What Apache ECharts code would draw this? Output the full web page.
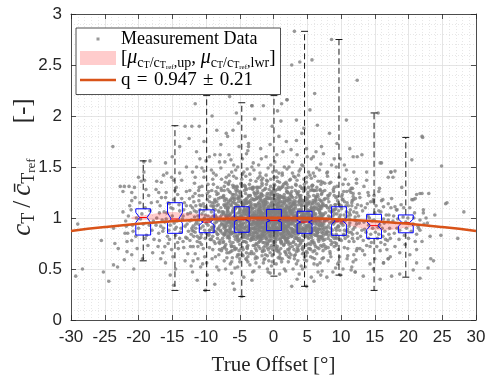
<!DOCTYPE html>
<html><head><meta charset="utf-8">
<script src="https://cdn.jsdelivr.net/npm/echarts@6/dist/echarts.min.js"></script>
<style>html,body{margin:0;padding:0;background:#fff}#c{width:486px;height:378px}</style>
</head><body><div id="c"></div><script>
// ---------- DATA ----------
const ptsM20 = [[-22.3,1.06],[-21.8,0.92],[-21.3,1.12],[-20.8,0.87],[-20.3,1.0],[-19.8,1.15],[-19.3,0.94],[-18.8,0.83],[-18.3,1.07],[-17.8,0.97],
[-22.0,0.85],[-21.5,1.02],[-21.0,0.78],[-20.5,1.2],[-20.0,0.9],[-19.5,1.04],[-19.0,0.8],[-18.5,1.22],[-18.0,0.88],
[-22.1,0.59],[-21.7,0.67],[-21.7,0.77],[-21.0,0.64],[-20.2,0.7],[-19.4,0.6],[-18.6,0.73],[-17.9,0.66],[-20.7,0.5],
[-22.3,1.26],[-21.4,1.31],[-21.0,1.17],[-20.6,1.3],[-19.6,1.36],[-19.2,1.45],[-18.3,1.56],[-19.1,1.37],[-22.7,1.31],[-20.0,1.4],[-18.9,1.28],[-19.2,1.55],
[-21.9,0.97],[-21.1,1.08],[-20.4,0.82],[-19.7,0.99],[-19.0,1.1],[-18.4,0.93],[-17.7,0.79],[-20.9,0.93],[-18.1,1.15],[-21.6,0.85]];
const ptsM15 = [[-17.3,1.0],[-16.8,1.12],[-16.3,0.9],[-15.8,1.05],[-15.3,0.93],[-14.8,1.18],[-14.3,0.97],[-13.8,0.86],[-13.3,1.08],[-12.8,0.94],
[-17.0,0.85],[-16.5,0.98],[-16.0,1.2],[-15.5,0.88],[-15.0,1.02],[-14.5,0.83],[-14.0,1.13],[-13.5,0.99],[-13.0,0.81],
[-17.2,1.16],[-16.7,0.92],[-16.2,1.06],[-15.7,0.82],[-15.2,1.1],[-14.7,0.95],[-14.2,1.23],[-13.7,0.9],[-13.2,1.15],[-12.7,1.04],
[-16.9,0.78],[-16.1,0.96],[-15.4,1.14],[-14.6,0.89],[-13.9,1.07],[-13.1,0.92],[-12.6,0.87],
[-17.4,0.93],[-16.9,1.05],[-16.4,0.87],[-15.9,0.99],[-15.4,0.79],[-14.9,1.09],[-14.4,0.91],[-13.9,0.8],[-13.4,1.02],[-12.9,1.12],[-16.6,1.2],[-15.6,1.15],[-14.2,0.76],[-13.6,1.19],[-16.1,0.72],[-15.1,0.69],[-13.3,0.71],[-12.8,0.8],[-17.0,1.25],[-14.6,1.27],
[-17.1,0.72],[-16.4,0.66],[-15.6,0.75],[-14.9,0.62],[-14.1,0.7],[-13.4,0.77],[-12.7,0.65],[-16.0,0.56],[-14.5,0.5],[-13.1,0.58],[-15.3,0.44],[-14.8,0.34],[-16.7,0.6],
[-17.4,1.28],[-16.6,1.35],[-15.9,1.25],[-15.1,1.4],[-14.4,1.3],[-13.6,1.37],[-12.9,1.26],[-16.3,1.42],[-14.8,1.37],[-13.9,1.44],[-12.9,1.5],[-15.8,1.44],
[-16.0,1.54],[-13.9,1.7],[-12.5,1.78],[-13.1,1.9],[-15.0,1.6],[-17.3,1.36]];
const ptsM10 = [[-12.4,0.97],[-12.0,1.1],[-11.6,0.86],[-11.2,1.02],[-10.8,0.9],[-10.4,1.14],[-10.0,0.95],[-9.6,0.83],[-9.2,1.06],[-8.8,0.92],[-8.4,1.12],[-8.0,0.98],[-7.6,0.85],
[-12.2,0.84],[-11.8,1.16],[-11.4,0.96],[-11.0,0.8],[-10.6,1.04],[-10.2,0.88],[-9.8,1.18],[-9.4,0.97],[-9.0,0.82],[-8.6,1.03],[-8.2,0.89],[-7.8,1.1],
[-12.3,1.05],[-11.9,0.92],[-11.5,1.12],[-11.1,0.94],[-10.7,0.84],[-10.3,0.99],[-9.9,1.09],[-9.5,0.88],[-9.1,1.15],[-8.7,0.95],[-8.3,0.8],[-7.9,1.01],
[-12.1,0.9],[-11.7,1.01],[-11.3,0.82],[-10.9,1.08],[-10.5,0.97],[-10.1,1.03],[-9.7,0.93],[-9.3,1.0],[-8.9,1.12],[-8.5,0.86],[-8.1,1.06],[-7.7,0.94],
[-12.45,1.19],[-11.85,0.87],[-11.05,1.17],[-10.25,1.11],[-9.45,1.21],[-8.65,1.17],[-7.85,0.88],[-11.55,0.94],[-10.75,1.12],[-9.95,0.85],[-9.15,0.91],[-8.35,1.0],
[-12.38,0.78],[-11.94,1.21],[-11.52,0.9],[-11.09,1.27],[-10.66,0.74],[-10.23,1.0],[-9.81,1.24],[-9.38,0.79],[-8.95,1.02],[-8.52,1.26],[-8.09,0.76],[-7.66,1.06],
[-12.27,1.12],[-11.83,0.82],[-11.41,1.06],[-10.98,0.98],[-10.55,1.22],[-10.12,0.8],[-9.69,0.98],[-9.26,1.12],[-8.83,0.87],[-8.4,1.16],[-7.97,0.92],[-7.54,0.8],
[-12.16,0.98],[-11.73,1.07],[-11.3,0.77],[-10.87,1.13],[-10.44,0.92],[-10.01,1.11],[-9.58,0.84],[-9.15,1.27],[-8.72,0.99],[-8.29,0.84],[-7.86,1.2],
[-12.05,0.88],[-11.62,1.24],[-11.19,0.98],[-10.76,0.81],[-10.33,1.07],[-9.9,0.95],[-9.47,1.16],[-9.04,0.89],[-8.61,1.08],[-8.18,1.19],[-7.75,0.97],
[-11.9,0.72],[-11.0,1.3],[-10.4,0.7],[-9.7,1.33],[-9.0,0.69],[-8.3,1.3],[-7.7,0.68],
[-12.3,0.72],[-11.6,0.65],[-10.9,0.76],[-10.2,0.62],[-9.5,0.71],[-8.8,0.77],[-8.1,0.64],[-7.6,0.7],[-11.9,0.58],[-10.5,0.55],[-9.1,0.6],[-8.4,0.52],[-12.0,0.47],[-9.8,0.44],[-11.3,0.39],[-8.7,0.35],[-10.1,0.29],[-12.2,0.53],[-11.2,0.72],[-9.3,0.79],
[-12.4,1.27],[-11.7,1.34],[-11.0,1.22],[-10.3,1.4],[-9.6,1.26],[-8.9,1.33],[-8.2,1.24],[-7.7,1.38],[-12.0,1.45],[-10.6,1.31],[-9.2,1.47],[-8.5,1.42],[-11.4,1.5],[-10.0,1.56],
[-12.1,1.9],[-11.0,1.9],[-11.4,1.65],[-10.6,1.49],[-8.9,1.44],[-7.8,1.72],[-7.9,1.62],[-8.4,1.86],[-11.6,2.12],[-9.5,1.6],[-10.3,1.75],[-8.0,1.55],[-9.1,2.0]];
const ptsM5 = [[-7.4,0.98],[-7.1,1.1],[-6.8,0.86],[-6.5,1.03],[-6.2,0.92],[-5.9,1.16],[-5.6,0.95],[-5.3,0.83],[-5.0,1.07],[-4.7,0.9],[-4.4,1.12],[-4.1,0.99],[-3.8,0.87],[-3.5,1.05],[-3.2,0.94],[-2.9,1.18],[-2.6,0.88],
[-7.3,0.84],[-7.0,0.95],[-6.7,1.14],[-6.4,0.89],[-6.1,1.06],[-5.8,0.82],[-5.5,1.01],[-5.2,1.19],[-4.9,0.93],[-4.6,0.81],[-4.3,1.04],[-4.0,1.14],[-3.7,0.91],[-3.4,0.84],[-3.1,1.09],[-2.8,1.0],
[-7.45,1.06],[-7.15,0.91],[-6.85,1.0],[-6.55,0.8],[-6.25,1.12],[-5.95,0.98],[-5.65,1.09],[-5.35,0.93],[-5.05,0.88],[-4.75,1.15],[-4.45,0.95],[-4.15,0.86],[-3.85,1.1],[-3.55,0.97],[-3.25,1.02],[-2.95,0.85],[-2.65,1.12],
[-7.25,1.17],[-6.95,0.88],[-6.65,0.96],[-6.35,1.18],[-6.05,0.85],[-5.75,1.02],[-5.45,0.9],[-5.15,1.11],[-4.85,1.01],[-4.55,1.06],[-4.25,0.89],[-3.95,0.97],[-3.65,1.16],[-3.35,0.9],[-3.05,0.97],[-2.75,0.93],
[-7.35,0.92],[-7.05,1.03],[-6.75,0.83],[-6.45,0.97],[-6.15,1.0],[-5.85,0.91],[-5.55,1.14],[-5.25,1.0],[-4.95,0.96],[-4.65,0.87],[-4.35,1.17],[-4.05,0.92],[-3.75,1.02],[-3.45,1.11],[-3.15,0.82],[-2.85,1.06],[-2.55,0.96],
[-7.47,0.76],[-7.16,1.19],[-6.84,0.81],[-6.55,1.26],[-6.22,0.72],[-5.93,1.23],[-5.62,0.79],[-5.31,1.27],[-5.01,0.74],[-4.72,1.21],[-4.41,0.77],[-4.09,1.29],[-3.79,0.73],[-3.48,1.22],[-3.17,0.8],[-2.87,1.25],[-2.57,0.75],
[-7.38,1.22],[-7.07,0.74],[-6.77,1.28],[-6.46,0.77],[-6.13,1.2],[-5.84,0.72],[-5.52,1.26],[-5.23,0.79],[-4.92,1.23],[-4.61,0.71],[-4.3,1.27],[-4.01,0.76],[-3.7,1.21],[-3.39,0.78],[-3.08,1.28],[-2.78,0.73],
[-7.3,0.83],[-6.98,1.01],[-6.68,1.16],[-6.37,0.85],[-6.05,1.0],[-5.76,1.18],[-5.44,0.82],[-5.14,0.99],[-4.84,1.17],[-4.52,0.84],[-4.22,1.03],[-3.92,1.15],[-3.61,0.83],[-3.3,1.01],[-2.99,1.18],[-2.69,0.86],
[-7.24,1.12],[-6.93,0.93],[-6.62,0.81],[-6.31,1.13],[-6.0,0.96],[-5.68,0.85],[-5.38,1.12],[-5.07,0.92],[-4.77,0.8],[-4.46,1.14],[-4.15,0.95],[-3.85,0.83],[-3.54,1.11],[-3.23,0.94],[-2.92,0.81],[-2.62,1.13],
[-7.42,1.04],[-7.11,0.87],[-6.8,1.08],[-6.49,1.03],[-6.18,0.86],[-5.88,1.1],[-5.57,1.04],[-5.27,0.88],[-4.96,1.09],[-4.66,1.02],[-4.36,0.85],[-4.05,1.08],[-3.74,1.05],[-3.44,0.87],[-3.13,1.1],[-2.82,1.03],[-2.52,0.85],
[-7.33,0.9],[-7.02,1.14],[-6.71,0.97],[-6.41,0.9],[-6.1,1.15],[-5.79,0.98],[-5.48,0.91],[-5.18,1.16],[-4.87,0.97],[-4.57,0.92],[-4.26,1.14],[-3.95,0.99],[-3.64,0.9],[-3.34,1.15],[-3.03,0.96],[-2.72,0.91],
[-7.2,0.98],[-6.89,1.06],[-6.58,0.88],[-6.27,0.98],[-5.96,1.06],[-5.66,0.89],[-5.35,1.0],[-5.04,1.05],[-4.74,0.87],[-4.43,0.99],[-4.12,1.07],[-3.82,0.88],[-3.51,0.98],[-3.2,1.06],[-2.9,0.89],[-2.6,1.0],
[-7.29,1.31],[-6.97,0.69],[-6.66,1.33],[-6.34,0.67],[-6.03,1.32],[-5.73,0.7],[-5.41,1.3],[-5.11,0.68],[-4.8,1.34],[-4.49,0.69],[-4.19,1.31],[-3.88,0.7],[-3.57,1.33],[-3.27,0.67],[-2.96,1.3],[-2.66,0.7],
[-7.36,0.94],[-7.05,1.02],[-6.74,1.11],[-6.43,0.95],[-6.12,0.93],[-5.82,1.07],[-5.5,0.96],[-5.2,1.12],[-4.9,1.02],[-4.59,0.94],[-4.28,1.09],[-3.98,1.04],[-3.67,0.96],[-3.36,1.08],[-3.06,1.03],[-2.75,0.95],[-2.51,1.19],
[-7.22,0.85],[-6.91,1.18],[-6.6,1.02],[-6.29,0.86],[-5.98,1.19],[-5.67,1.01],[-5.36,0.81],[-5.06,1.2],[-4.75,1.02],[-4.44,0.82],[-4.13,1.18],[-3.83,1.03],[-3.52,0.85],[-3.21,1.19],[-2.91,1.01],[-2.59,0.82],
[-7.2,0.72],[-6.6,0.66],[-6.0,0.76],[-5.4,0.62],[-4.8,0.7],[-4.2,0.77],[-3.6,0.65],[-3.0,0.73],[-2.7,0.6],[-6.9,0.61],[-6.3,0.74],[-5.7,0.69],[-5.1,0.78],[-4.5,0.63],[-3.9,0.71],[-3.3,0.79],[-7.4,0.77],[-5.0,0.57],[-4.0,0.59],[-6.4,0.55],
[-7.3,1.27],[-6.7,1.34],[-6.1,1.23],[-5.5,1.39],[-4.9,1.26],[-4.3,1.32],[-3.7,1.22],[-3.1,1.29],[-2.6,1.36],[-7.0,1.4],[-6.4,1.25],[-5.8,1.31],[-5.2,1.21],[-4.6,1.43],[-4.0,1.28],[-3.4,1.37],[-2.8,1.24],[-6.2,1.45],[-3.9,1.48],[-5.6,1.28],
[-7.1,0.5],[-6.2,0.46],[-5.3,0.52],[-4.4,0.42],[-3.5,0.54],[-2.9,0.48],[-4.7,0.23],[-6.0,0.36],[-3.2,0.39],[-5.8,0.3],
[-7.2,1.55],[-6.6,1.62],[-5.9,1.52],[-5.1,1.7],[-4.6,1.58],[-3.8,1.66],[-3.0,1.54],[-6.8,1.8],[-6.0,1.86],[-5.2,1.93],[-4.2,1.8],[-3.7,1.7],[-6.5,2.19],[-3.2,2.1],[-2.8,1.97],[-5.5,2.03],[-7.0,1.83],[-3.7,1.73]];
const pts0 = [[-2.4,0.95],[-2.1,1.08],[-1.8,0.88],[-1.5,1.02],[-1.2,0.91],[-0.9,1.15],[-0.6,0.97],[-0.3,0.84],[0.0,1.05],[0.3,0.93],[0.6,1.11],[0.9,0.89],[1.2,1.01],[1.5,0.96],[1.8,1.13],[2.1,0.87],[2.4,1.04],
[-2.3,0.82],[-2.0,1.17],[-1.7,0.99],[-1.4,0.86],[-1.1,1.07],[-0.8,0.92],[-0.5,1.19],[-0.2,0.98],[0.1,0.81],[0.4,1.09],[0.7,1.0],[1.0,0.85],[1.3,1.16],[1.6,0.9],[1.9,1.06],[2.2,0.94],
[-2.5,1.12],[-2.2,0.9],[-1.9,1.03],[-1.6,0.83],[-1.3,1.18],[-1.0,0.95],[-0.7,1.06],[-0.4,0.88],[-0.1,1.13],[0.2,0.99],[0.5,0.86],[0.8,1.04],[1.1,0.92],[1.4,1.1],[1.7,0.97],[2.0,0.84],[2.3,1.15],
[-2.35,1.0],[-2.05,0.87],[-1.75,1.14],[-1.45,0.94],[-1.15,0.8],[-0.85,1.03],[-0.55,0.9],[-0.25,1.1],[0.05,0.93],[0.35,1.17],[0.65,0.82],[0.95,1.08],[1.25,0.95],[1.55,0.87],[1.85,1.0],[2.15,1.12],[2.45,0.9],
[-2.45,0.86],[-2.15,1.02],[-1.85,0.93],[-1.55,1.16],[-1.25,1.0],[-0.95,0.84],[-0.65,1.12],[-0.35,0.95],[-0.05,0.89],[0.25,1.03],[0.55,0.97],[0.85,1.19],[1.15,0.83],[1.45,1.05],[1.75,0.91],[2.05,1.09],[2.35,0.98],
[-2.25,1.06],[-1.95,0.97],[-1.65,0.91],[-1.35,1.09],[-1.05,0.88],[-0.75,0.99],[-0.45,1.04],[-0.15,0.92],[0.15,1.16],[0.45,0.91],[0.75,0.95],[1.05,1.12],[1.35,0.88],[1.65,1.02],[1.95,0.96],[2.25,0.81],
[-2.38,0.96],[-2.02,1.11],[-1.72,0.85],[-1.42,0.98],[-1.12,1.13],[-0.82,0.87],[-0.52,1.01],[-0.22,1.15],[0.08,0.87],[0.38,1.0],[0.68,1.06],[0.98,0.93],[1.28,1.07],[1.58,0.81],[1.88,0.89],[2.18,1.01],[2.48,1.08],
[-2.28,0.92],[-1.98,0.82],[-1.68,1.05],[-1.38,1.13],[-1.08,0.97],[-0.78,1.1],[-0.48,0.83],[-0.18,1.02],[0.12,0.96],[0.42,1.13],[0.72,0.88],[1.02,1.0],[1.32,0.94],[1.62,1.18],[1.92,1.11],[2.22,0.97],
[-2.18,1.15],[-1.88,1.07],[-1.58,0.97],[-1.28,0.89],[-0.98,1.04],[-0.68,0.93],[-0.38,1.07],[-0.08,0.97],[0.22,0.85],[0.52,1.05],[0.82,0.92],[1.12,1.08],[1.42,0.99],[1.72,1.08],[2.02,0.93],[2.32,1.06],
[-2.48,0.74],[-2.17,1.21],[-1.86,0.79],[-1.57,1.27],[-1.24,0.73],[-0.93,1.24],[-0.61,0.78],[-0.32,1.26],[-0.02,0.76],[0.27,1.22],[0.58,0.72],[0.91,1.28],[1.19,0.75],[1.52,1.2],[1.83,0.79],[2.12,1.25],[2.43,0.71],
[-2.41,1.2],[-2.09,0.77],[-1.79,1.23],[-1.47,0.71],[-1.18,1.29],[-0.87,0.74],[-0.57,1.21],[-0.27,0.78],[0.04,1.27],[0.33,0.73],[0.62,1.23],[0.96,0.79],[1.27,1.21],[1.56,0.74],[1.88,1.29],[2.19,0.77],[2.47,1.23],
[-2.33,0.81],[-2.01,0.99],[-1.71,1.17],[-1.39,0.83],[-1.07,1.01],[-0.79,1.19],[-0.47,0.82],[-0.16,1.0],[0.12,1.18],[0.44,0.84],[0.73,1.02],[1.05,1.16],[1.33,0.81],[1.66,0.98],[1.96,1.17],[2.27,0.85],
[-2.27,1.14],[-1.94,0.94],[-1.63,0.8],[-1.33,1.11],[-1.02,0.95],[-0.71,0.86],[-0.41,1.14],[-0.11,0.93],[0.19,0.81],[0.49,1.12],[0.81,0.96],[1.09,0.84],[1.39,1.14],[1.71,0.92],[2.01,0.8],[2.31,1.1],
[-2.44,1.03],[-2.13,0.88],[-1.82,1.09],[-1.52,1.04],[-1.21,0.85],[-0.89,1.09],[-0.59,1.05],[-0.29,0.86],[0.01,1.08],[0.31,1.04],[0.61,0.85],[0.93,1.1],[1.23,1.03],[1.53,0.86],[1.84,1.1],[2.16,1.02],[2.46,0.84],
[-2.36,0.89],[-2.06,1.13],[-1.76,0.96],[-1.44,0.91],[-1.14,1.16],[-0.84,0.97],[-0.53,0.9],[-0.23,1.16],[0.09,0.98],[0.39,0.9],[0.69,1.14],[0.99,0.99],[1.29,0.91],[1.59,1.15],[1.91,0.97],[2.21,0.92],
[-2.22,0.97],[-1.91,1.05],[-1.61,0.87],[-1.29,0.99],[-0.99,1.07],[-0.67,0.88],[-0.37,0.99],[-0.06,1.06],[0.24,0.88],[0.54,0.98],[0.86,1.07],[1.16,0.89],[1.46,1.0],[1.76,1.06],[2.06,0.88],[2.38,1.0],
[-2.31,1.3],[-1.99,0.7],[-1.69,1.34],[-1.36,0.68],[-1.05,1.33],[-0.76,0.69],[-0.43,1.31],[-0.13,0.69],[0.17,1.32],[0.47,0.68],[0.78,1.3],[1.08,0.7],[1.37,1.31],[1.69,0.67],[1.99,1.33],[2.29,0.69],
[-2.39,0.93],[-2.08,1.01],[-1.77,1.11],[-1.46,0.96],[-1.16,0.92],[-0.86,1.06],[-0.55,0.95],[-0.24,1.12],[0.06,1.01],[0.36,0.95],[0.66,1.09],[0.97,1.05],[1.26,0.97],[1.57,1.08],[1.86,1.04],[2.17,0.96],[2.44,1.18],
[-2.25,0.84],[-1.93,1.19],[-1.62,1.01],[-1.31,0.87],[-1.01,1.2],[-0.69,1.0],[-0.39,0.8],[-0.08,1.19],[0.22,1.03],[0.52,0.83],[0.83,1.18],[1.13,1.02],[1.43,0.84],[1.73,1.2],[2.04,1.01],[2.34,0.83],
[-2.46,0.99],[-2.15,0.82],[-1.84,1.03],[-1.55,1.22],[-1.23,0.94],[-0.92,0.81],[-0.63,1.04],[-0.3,1.23],[0.0,0.94],[0.32,0.8],[0.63,1.02],[0.94,1.22],[1.22,0.93],[1.54,0.82],[1.86,1.03],[2.14,1.19],[2.42,0.94],
[-2.2,1.08],[-1.9,0.91],[-1.58,0.76],[-1.27,1.05],[-0.97,0.91],[-0.65,0.77],[-0.35,1.07],[-0.04,0.9],[0.26,0.76],[0.57,1.06],[0.88,0.9],[1.17,0.77],[1.48,1.07],[1.79,0.9],[2.08,0.76],[2.4,1.07],
[-2.2,0.72],[-1.6,0.68],[-0.9,0.75],[-0.2,0.63],[0.5,0.7],[1.1,0.77],[1.8,0.66],[2.3,0.74],[-1.9,0.78],[-1.2,0.64],[-0.5,0.71],[0.2,0.77],[0.9,0.62],[1.5,0.73],[2.1,0.69],[-2.4,0.61],[-1.0,0.79],[0.7,0.67],[1.3,0.6],[-0.7,0.58],[0.0,0.72],[1.9,0.78],[-1.4,0.76],
[-2.3,1.25],[-1.7,1.32],[-1.0,1.22],[-0.4,1.38],[0.3,1.27],[0.9,1.35],[1.6,1.23],[2.2,1.3],[-2.0,1.41],[-1.3,1.28],[-0.6,1.24],[0.1,1.33],[0.7,1.21],[1.3,1.42],[2.0,1.26],[-1.8,1.21],[-0.1,1.45],[1.0,1.29],[2.4,1.37],[-2.5,1.3],[0.5,1.4],[-0.9,1.36],[1.7,1.34],
[-2.1,0.52],[-0.8,0.47],[0.4,0.55],[1.6,0.5],[-1.5,0.56],[0.9,0.45],[2.2,0.57],[-0.3,0.53],[-0.5,0.46],
[-2.2,1.52],[-1.1,1.6],[0.2,1.55],[1.4,1.65],[2.3,1.5],[-0.5,1.72],[0.8,1.8],[-1.9,1.68],[1.9,1.75],[-0.2,1.9],[1.1,1.95],[-1.5,2.1],[0.6,2.05],[2.0,2.16],[1.2,2.12],[-3.2,2.1]];
const pts5 = [[2.6,0.95],[2.9,1.08],[3.2,0.87],[3.5,1.01],[3.8,0.9],[4.1,1.13],[4.4,0.96],[4.7,0.83],[5.0,1.04],[5.3,0.92],[5.6,1.1],[5.9,0.88],[6.2,1.0],[6.5,0.94],[6.8,1.12],[7.1,0.86],[7.4,1.03],
[2.7,0.82],[3.0,1.15],[3.3,0.98],[3.6,0.85],[3.9,1.06],[4.2,0.91],[4.5,1.17],[4.8,0.97],[5.1,0.81],[5.4,1.07],[5.7,0.99],[6.0,0.84],[6.3,1.14],[6.6,0.89],[6.9,1.05],[7.2,0.93],
[2.55,1.11],[2.85,0.89],[3.15,1.02],[3.45,0.8],[3.75,1.16],[4.05,0.94],[4.35,1.05],[4.65,0.87],[4.95,1.12],[5.25,0.98],[5.55,0.85],[5.85,1.03],[6.15,0.91],[6.45,1.09],[6.75,0.96],[7.05,0.82],[7.35,1.14],
[2.65,0.99],[2.95,0.86],[3.25,1.13],[3.55,0.93],[3.85,0.8],[4.15,1.02],[4.45,0.89],[4.75,1.09],[5.05,0.92],[5.35,1.16],[5.65,0.81],[5.95,1.07],[6.25,0.94],[6.55,0.86],[6.85,0.99],[7.15,1.11],[7.45,0.89],
[2.75,1.05],[3.05,0.96],[3.35,0.9],[3.65,1.08],[3.95,0.87],[4.25,0.98],[4.55,1.03],[4.85,0.91],[5.15,1.14],[5.45,0.9],[5.75,0.94],[6.05,1.11],[6.35,0.87],[6.65,1.01],[6.95,0.95],[7.25,0.8],
[2.53,0.75],[2.84,1.2],[3.15,0.8],[3.45,1.25],[3.77,0.73],[4.07,1.22],[4.38,0.78],[4.69,1.28],[4.99,0.74],[5.29,1.21],[5.61,0.77],[5.91,1.27],[6.22,0.72],[6.52,1.23],[6.83,0.79],[7.14,1.24],[7.45,0.74],
[2.62,1.22],[2.93,0.76],[3.23,1.27],[3.54,0.71],[3.86,1.21],[4.16,0.78],[4.47,1.26],[4.77,0.73],[5.08,1.23],[5.39,0.7],[5.7,1.28],[6.0,0.76],[6.31,1.2],[6.62,0.79],[6.92,1.27],[7.23,0.72],
[2.7,0.82],[3.01,1.0],[3.32,1.16],[3.63,0.84],[3.94,1.01],[4.24,1.17],[4.55,0.82],[4.86,0.98],[5.17,1.15],[5.47,0.84],[5.78,1.01],[6.08,1.16],[6.39,0.83],[6.7,0.99],[7.01,1.17],[7.31,0.85],
[2.77,1.12],[3.07,0.93],[3.38,0.8],[3.69,1.13],[4.0,0.95],[4.31,0.83],[4.62,1.12],[4.93,0.92],[5.23,0.8],[5.54,1.13],[5.85,0.96],[6.16,0.83],[6.46,1.11],[6.77,0.93],[7.08,0.81],[7.39,1.12],
[2.58,1.03],[2.89,0.87],[3.2,1.09],[3.51,1.03],[3.81,0.86],[4.12,1.09],[4.43,1.04],[4.73,0.87],[5.04,1.08],[5.35,1.03],[5.65,0.86],[5.96,1.1],[6.26,1.04],[6.57,0.86],[6.88,1.09],[7.18,1.02],[7.48,0.87],
[2.67,0.9],[2.98,1.14],[3.29,0.97],[3.59,0.9],[3.9,1.15],[4.21,0.97],[4.52,0.9],[4.82,1.14],[5.13,0.98],[5.44,0.91],[5.74,1.15],[6.05,0.97],[6.36,0.9],[6.66,1.14],[6.97,0.98],[7.28,0.91],
[2.8,0.98],[3.11,1.06],[3.42,0.88],[3.73,0.99],[4.04,1.06],[4.34,0.89],[4.65,0.99],[4.96,1.05],[5.26,0.88],[5.57,0.98],[5.88,1.06],[6.18,0.88],[6.49,0.99],[6.8,1.07],[7.1,0.89],[7.41,0.99],
[2.71,1.3],[3.03,0.69],[3.34,1.32],[3.65,0.68],[3.96,1.31],[4.27,0.7],[4.58,1.33],[4.88,0.67],[5.19,1.3],[5.5,0.69],[5.81,1.32],[6.11,0.68],[6.42,1.3],[6.73,0.7],[7.04,1.33],[7.35,0.68],
[2.64,0.94],[2.95,1.02],[3.26,1.11],[3.57,0.95],[3.87,0.93],[4.18,1.07],[4.49,0.96],[4.8,1.11],[5.1,1.02],[5.41,0.94],[5.72,1.08],[6.03,1.04],[6.33,0.96],[6.64,1.08],[6.95,1.03],[7.26,0.95],
[2.78,0.85],[3.09,1.17],[3.4,1.01],[3.71,0.86],[4.02,1.18],[4.33,1.02],[4.63,0.82],[4.94,1.19],[5.25,1.01],[5.56,0.83],[5.87,1.17],[6.17,1.03],[6.48,0.85],[6.79,1.18],[7.1,1.01],[7.4,0.83],
[2.8,0.72],[3.4,0.67],[4.0,0.75],[4.6,0.62],[5.2,0.7],[5.8,0.76],[6.4,0.65],[7.0,0.73],[7.4,0.61],[3.1,0.6],[3.7,0.78],[4.3,0.69],[4.9,0.58],[5.5,0.74],[6.1,0.6],[6.7,0.77],[2.6,0.64],[5.0,0.66],[6.9,0.56],[4.1,0.53],
[2.7,1.26],[3.3,1.33],[3.9,1.22],[4.5,1.38],[5.1,1.25],[5.7,1.31],[6.3,1.21],[6.9,1.28],[7.3,1.35],[3.0,1.41],[3.6,1.24],[4.2,1.29],[4.8,1.2],[5.4,1.42],[6.0,1.27],[6.6,1.36],[7.1,1.23],[3.8,1.46],[5.9,1.44],[4.6,1.3],
[2.9,0.5],[3.8,0.45],[4.7,0.52],[5.6,0.42],[6.5,0.54],[7.2,0.48],[4.9,0.33],[2.7,0.33],[6.0,0.38],[3.5,0.4],[7.0,0.44],
[2.8,1.55],[3.5,1.62],[4.2,1.52],[4.9,1.68],[5.6,1.58],[6.3,1.65],[7.0,1.53],[3.4,1.76],[4.2,1.83],[5.9,1.6],[6.5,1.91],[5.4,2.06],[6.1,2.22],[3.9,2.53],[2.7,2.5],[5.7,2.55],[3.1,2.83],[7.1,1.7],[3.4,1.96],[4.5,1.88],[2.0,2.16]];
const pts10 = [[7.6,0.97],[8.0,1.1],[8.4,0.86],[8.8,1.02],[9.2,0.9],[9.6,1.14],[10.0,0.95],[10.4,0.83],[10.8,1.06],[11.2,0.92],[11.6,1.12],[12.0,0.98],[12.4,0.85],
[7.8,0.84],[8.2,1.16],[8.6,0.96],[9.0,0.8],[9.4,1.04],[9.8,0.88],[10.2,1.18],[10.6,0.97],[11.0,0.82],[11.4,1.03],[11.8,0.89],[12.2,1.1],
[7.7,1.05],[8.1,0.92],[8.5,1.12],[8.9,0.94],[9.3,0.84],[9.7,0.99],[10.1,1.09],[10.5,0.88],[10.9,1.15],[11.3,0.95],[11.7,0.8],[12.1,1.01],
[7.9,0.9],[8.3,1.01],[8.7,0.82],[9.1,1.08],[9.5,0.97],[9.9,1.03],[10.3,0.93],[10.7,1.0],[11.1,1.12],[11.5,0.86],[11.9,1.06],[12.3,0.94],
[7.65,1.19],[8.45,0.78],[9.25,1.2],[10.05,0.78],[10.85,0.87],[11.65,1.17],[12.45,1.13],[8.05,0.98],[8.85,1.08],[9.65,0.92],[10.45,1.03],[11.25,1.05],
[7.62,0.79],[8.05,1.22],[8.47,0.9],[8.9,1.26],[9.33,0.75],[9.76,1.01],[10.19,1.23],[10.62,0.8],[11.05,1.02],[11.48,1.25],[11.91,0.77],[12.34,1.05],
[7.73,1.12],[8.16,0.83],[8.59,1.06],[9.02,0.97],[9.45,1.21],[9.88,0.79],[10.31,0.98],[10.74,1.12],[11.17,0.86],[11.6,1.15],[12.03,0.91],[12.46,0.8],
[7.84,0.98],[8.27,1.07],[8.7,0.76],[9.13,1.13],[9.56,0.92],[9.99,1.11],[10.42,0.84],[10.85,1.26],[11.28,0.99],[11.71,0.84],[12.14,1.19],
[7.95,0.87],[8.38,1.24],[8.81,0.98],[9.24,0.81],[9.67,1.07],[10.1,0.95],[10.53,1.16],[10.96,0.89],[11.39,1.08],[11.82,1.18],[12.25,0.97],
[8.1,0.71],[9.0,1.3],[9.6,0.69],[10.3,1.33],[11.0,0.7],[11.7,1.29],[12.3,0.68],
[7.7,0.72],[8.4,0.65],[9.1,0.76],[9.8,0.62],[10.5,0.71],[11.2,0.77],[11.9,0.64],[12.4,0.7],[8.1,0.58],[9.5,0.55],[10.9,0.6],[11.6,0.52],[8.8,0.47],[9.9,0.44],[11.8,0.57],[12.1,0.47],[7.9,0.42],[10.3,0.5],
[7.6,1.27],[8.3,1.34],[9.0,1.22],[9.7,1.4],[10.4,1.26],[11.1,1.33],[11.8,1.24],[12.3,1.38],[8.0,1.45],[9.4,1.31],[10.8,1.47],[11.5,1.29],[8.6,1.52],[10.1,1.21],
[11.3,1.68],[11.8,1.6],[12.3,1.34],[11.3,1.27],[11.8,1.21],[10.3,1.18],[12.4,1.6],[9.4,1.73],[8.3,1.83],[10.8,1.96],[8.6,2.75],[12.4,2.35],[9.0,1.58],[7.9,1.44],[10.5,1.52]];
const ptsMid = [[-11.2,0.6],[-9.9,0.56],[-8.6,0.62],[-7.3,0.58],[-6.1,0.61],[-5.1,0.64],[-3.8,0.57],[-2.6,0.62],[-1.3,0.6],[-0.1,0.64],[1.2,0.57],[2.4,0.61],[3.6,0.58],[4.8,0.63],[6.0,0.55],[7.2,0.6],[8.5,0.62],[9.7,0.57],[11.0,0.63],[12.2,0.59],
[-11.6,1.4],[-10.3,1.46],[-9.0,1.38],[-7.8,1.49],[-6.6,1.42],[-5.3,1.5],[-4.1,1.41],[-2.9,1.47],[-1.6,1.39],[-0.4,1.52],[0.8,1.44],[2.0,1.48],[3.2,1.4],[4.4,1.51],[5.6,1.39],[6.8,1.47],[8.0,1.41],[9.3,1.5],[10.6,1.38],[11.9,1.45],
[-10.8,0.52],[-8.1,0.49],[-5.7,0.51],[-3.1,0.47],[-0.9,0.5],[1.8,0.48],[4.3,0.5],[6.6,0.47],[9.2,0.51],[11.5,0.49],
[-10.9,1.58],[-8.7,1.62],[-6.3,1.57],[-4.0,1.63],[-1.8,1.58],[0.5,1.62],[2.6,1.67],[5.0,1.6],[7.4,1.63],[9.9,1.58]];
const ptsCore = [[-8.9,0.91],[-8.4,1.23],[-7.9,0.78],[-7.4,1.05],[-6.9,0.66],[-6.4,1.17],[-5.9,0.94],[-5.4,1.31],[-4.9,0.85],[-4.4,1.0],[-3.9,0.72],[-3.4,1.12],[-2.9,0.97],[-2.4,1.27],[-1.9,0.81],[-1.4,1.08],[-0.9,0.63],[-0.4,1.19],[0.1,0.89],[0.6,1.36],[1.1,0.76],[1.6,1.02],[2.1,1.25],[2.6,0.87],[3.1,1.14],[3.6,0.69],[4.1,0.99],[4.6,1.29],[5.1,0.83],[5.6,1.1],[6.1,0.74],[6.6,1.21],[7.1,0.93],[7.6,1.34],[8.1,0.8],[8.6,1.06],[9.1,0.96],
[-8.77,1.15],[-8.27,0.84],[-7.77,1.29],[-7.27,0.71],[-6.77,1.03],[-6.27,0.95],[-5.77,1.2],[-5.27,0.77],[-4.77,1.33],[-4.27,0.9],[-3.77,1.07],[-3.27,0.65],[-2.77,1.18],[-2.27,0.99],[-1.77,1.37],[-1.27,0.82],[-0.77,1.11],[-0.27,0.73],[0.23,1.24],[0.73,0.95],[1.23,1.3],[1.73,0.79],[2.23,0.98],[2.73,1.16],[3.23,0.64],[3.73,1.26],[4.23,0.86],[4.73,1.04],[5.23,0.75],[5.73,1.32],[6.23,0.97],[6.73,0.82],[7.23,1.13],[7.73,0.7],[8.23,1.22],[8.73,0.88],[9.23,1.09],
[-8.64,0.75],[-8.14,1.07],[-7.64,0.94],[-7.14,1.35],[-6.64,0.82],[-6.14,0.68],[-5.64,1.1],[-5.14,1.01],[-4.64,0.64],[-4.14,1.24],[-3.64,0.88],[-3.14,1.3],[-2.64,0.79],[-2.14,1.05],[-1.64,0.67],[-1.14,0.93],[-0.64,1.28],[-0.14,1.03],[0.36,0.7],[0.86,1.15],[1.36,0.9],[1.86,1.35],[2.36,0.66],[2.86,1.04],[3.36,0.92],[3.86,1.17],[4.36,0.72],[4.86,1.35],[5.36,0.95],[5.86,0.67],[6.36,1.27],[6.86,1.05],[7.36,0.78],[7.86,0.99],[8.36,0.67],[8.86,1.28],[9.36,0.8],
[-8.51,1.01],[-8.01,0.69],[-7.51,1.2],[-7.01,0.88],[-6.51,1.36],[-6.01,1.08],[-5.51,0.7],[-5.01,1.25],[-4.51,1.12],[-4.01,0.66],[-3.51,1.29],[-3.01,0.86],[-2.51,0.68],[-2.01,1.3],[-1.51,0.9],[-1.01,1.37],[-0.51,0.86],[-0.01,1.29],[0.49,1.19],[0.99,0.65],[1.49,1.33],[1.99,0.91],[2.49,1.14],[2.99,0.77],[3.49,1.37],[3.99,1.08],[4.49,0.66],[4.99,1.18],[5.49,1.27],[5.99,0.9],[6.49,0.71],[6.99,1.36],[7.49,1.18],[7.99,0.86],[8.49,1.35],[8.99,0.72],[9.49,1.17],
[-8.85,1.09],[-8.35,0.97],[-7.85,0.87],[-7.35,1.13],[-6.85,0.96],[-6.35,1.04],[-5.85,0.86],[-5.35,1.11],[-4.85,0.94],[-4.35,1.08],[-3.85,1.0],[-3.35,0.89],[-2.85,1.13],[-2.35,0.93],[-1.85,1.06],[-1.35,0.88],[-0.85,0.99],[-0.35,1.12],[0.15,1.07],[0.65,0.9],[1.15,1.05],[1.65,1.16],[2.15,0.92],[2.65,1.07],[3.15,0.85],[3.65,1.0],[4.15,1.12],[4.65,0.93],[5.15,1.05],[5.65,0.87],[6.15,1.09],[6.65,0.98],[7.15,1.16],[7.65,0.91],[8.15,1.02],[8.65,0.84],[9.15,1.13],
[-8.68,0.87],[-8.18,1.13],[-7.68,1.03],[-7.18,0.92],[-6.68,1.1],[-6.18,0.86],[-5.68,0.98],[-5.18,0.89],[-4.68,1.04],[-4.18,0.91],[-3.68,1.15],[-3.18,1.03],[-2.68,0.9],[-2.18,1.1],[-1.68,0.96],[-1.18,1.14],[-0.68,0.9],[-0.18,1.06],[0.32,0.99],[0.82,1.12],[1.32,0.85],[1.82,0.97],[2.32,1.09],[2.82,0.95],[3.32,1.03],[3.82,0.89],[4.32,1.15],[4.82,1.01],[5.32,0.87],[5.82,1.14],[6.32,1.0],[6.82,0.89],[7.32,1.04],[7.82,1.12],[8.32,0.95],[8.82,1.07],[9.32,0.88],
[-6.2,0.57],[-5.6,1.47],[-5.0,0.6],[-4.4,1.45],[-3.8,0.62],[-3.2,1.5],[-2.6,0.56],[-2.0,1.44],[-1.4,0.59],[-0.8,1.49],[-0.2,0.57],[0.4,1.46],[1.0,0.6],[1.6,1.5],[2.2,0.62],[2.8,1.44],[3.4,0.55],[4.0,1.48],[4.6,0.59],[5.2,1.45],[5.8,0.61],[6.4,1.49],
[-5.9,1.41],[-5.3,0.64],[-4.7,1.38],[-4.1,0.6],[-3.5,1.43],[-2.9,0.65],[-2.3,1.39],[-1.7,0.63],[-1.1,1.42],[-0.5,0.66],[0.1,1.4],[0.7,0.61],[1.3,1.44],[1.9,0.64],[2.5,1.38],[3.1,0.63],[3.7,1.42],[4.3,0.65],[4.9,1.4],[5.5,0.62],[6.1,1.41],
[-4.45,0.99],[-4.05,1.17],[-3.65,0.93],[-3.25,0.8],[-2.85,1.04],[-2.45,1.19],[-2.05,0.95],[-1.65,0.82],[-1.25,1.05],[-0.85,1.19],[-0.45,0.97],[-0.05,0.82],[0.35,1.06],[0.75,1.2],[1.15,0.98],[1.55,0.81],[1.95,1.04],[2.35,1.18],[2.75,0.97],[3.15,0.83],[3.55,1.05],[3.95,1.19],[4.35,0.96],
[-4.25,0.84],[-3.85,1.06],[-3.45,1.22],[-3.05,0.9],[-2.65,1.02],[-2.25,0.8],[-1.85,1.23],[-1.45,1.01],[-1.05,0.76],[-0.65,1.08],[-0.25,1.24],[0.15,0.91],[0.55,0.79],[0.95,1.21],[1.35,1.06],[1.75,0.76],[2.15,0.99],[2.55,1.24],[2.95,0.88],[3.35,1.2],[3.75,0.78],[4.15,1.03]];
const ptsCore2 = [[-9.7,1.02],[-9.2,0.79],[-8.7,1.18],[-8.2,0.9],[-7.7,1.27],[-7.2,0.84],[-6.7,1.06],[-6.2,0.72],[-5.7,1.14],[-5.2,0.97],[-4.7,1.31],[-4.2,0.81],[-3.7,1.09],[-3.2,0.93],[-2.7,1.22],[-2.2,0.76],[-1.7,1.01],[-1.2,1.16],[-0.7,0.87],[-0.2,1.25],[0.3,0.95],[0.8,0.68],[1.3,1.12],[1.8,0.83],[2.3,1.2],[2.8,0.99],[3.3,0.74],[3.8,1.07],[4.3,1.29],[4.8,0.89],[5.3,1.04],[5.8,0.78],[6.3,1.17],[6.8,0.92],[7.3,1.26],[7.8,0.85],[8.3,1.1],[8.8,0.96],[9.3,0.73],[9.8,1.13],
[-9.45,0.88],[-8.95,1.11],[-8.45,0.96],[-7.95,0.75],[-7.45,1.21],[-6.95,1.03],[-6.45,0.86],[-5.95,1.3],[-5.45,0.94],[-4.95,1.08],[-4.45,0.77],[-3.95,1.19],[-3.45,1.0],[-2.95,0.83],[-2.45,1.24],[-1.95,0.91],[-1.45,1.15],[-0.95,0.71],[-0.45,1.05],[0.05,0.98],[0.55,1.28],[1.05,0.8],[1.55,0.93],[2.05,1.17],[2.55,1.06],[3.05,0.87],[3.55,1.23],[4.05,0.76],[4.55,1.01],[5.05,1.14],[5.55,0.9],[6.05,1.27],[6.55,0.82],[7.05,1.09],[7.55,0.97],[8.05,1.19],[8.55,0.74],[9.05,1.04],[9.55,0.91],[10.05,1.12],
[-7.3,0.97],[-6.8,1.09],[-6.3,0.84],[-5.8,1.02],[-5.3,1.19],[-4.8,0.9],[-4.3,1.06],[-3.8,0.8],[-3.3,1.13],[-2.8,0.95],[-2.3,1.01],[-1.8,1.24],[-1.3,0.87],[-0.8,1.1],[-0.3,0.99],[0.2,0.78],[0.7,1.16],[1.2,0.93],[1.7,1.04],[2.2,0.86],[2.7,1.21],[3.2,1.0],[3.7,0.92],[4.2,1.12],[4.7,0.82],[5.2,1.07],[5.7,0.96],[6.2,1.18],[6.7,0.89],[7.2,1.03],
[-7.05,1.12],[-6.55,0.92],[-6.05,1.0],[-5.55,1.23],[-5.05,0.85],[-4.55,0.98],[-4.05,1.15],[-3.55,0.94],[-3.05,0.79],[-2.55,1.07],[-2.05,1.2],[-1.55,0.91],[-1.05,1.03],[-0.55,0.83],[-0.05,0.97],[0.45,1.14],[0.95,1.05],[1.45,0.88],[1.95,1.26],[2.45,0.95],[2.95,1.09],[3.45,0.81],[3.95,1.17],[4.45,0.99],[4.95,0.9],[5.45,1.02],[5.95,1.22],[6.45,0.86],[6.95,1.11],[7.45,0.94],
[-5.2,1.05],[-4.7,0.93],[-4.2,1.15],[-3.7,0.87],[-3.2,1.01],[-2.7,1.1],[-2.2,0.95],[-1.7,0.84],[-1.2,1.18],[-0.7,1.03],[-0.2,0.91],[0.3,1.08],[0.8,0.97],[1.3,1.2],[1.8,0.86],[2.3,1.0],[2.8,1.13],[3.3,0.92],[3.8,1.06],[4.3,0.89],[4.8,1.16],[5.3,0.98],
[-4.95,0.92],[-4.45,1.07],[-3.95,0.99],[-3.45,1.17],[-2.95,0.9],[-2.45,1.04],[-1.95,0.82],[-1.45,1.12],[-0.95,0.96],[-0.45,1.02],[0.05,1.22],[0.55,0.88],[1.05,1.06],[1.55,0.94],[2.05,0.8],[2.55,1.11],[3.05,1.0],[3.55,0.87],[4.05,1.19],[4.55,1.03],[5.05,0.93],[5.55,1.08]];
const pts15 = [[12.7,0.95],[13.2,1.07],[13.7,0.86],[14.2,1.0],[14.7,0.9],[15.2,1.12],[15.7,0.93],[16.2,0.82],[16.7,1.03],[17.2,0.9],
[12.9,0.82],[13.4,0.96],[13.9,1.14],[14.4,0.84],[14.9,0.98],[15.4,0.8],[15.9,1.06],[16.4,0.95],[16.9,0.78],[17.4,1.1],
[13.0,1.12],[13.5,0.89],[14.0,1.02],[14.5,0.76],[15.0,1.05],[15.5,0.91],[16.0,1.17],[16.5,0.87],[17.0,0.98],
[13.3,0.78],[14.1,0.93],[14.8,1.16],[15.6,0.84],[16.3,0.99],[17.1,0.84],
[12.6,1.02],[13.1,0.88],[13.6,1.1],[14.1,0.8],[14.6,0.97],[15.1,0.86],[15.6,1.07],[16.1,0.9],[16.6,0.79],[17.1,1.03],[12.8,1.2],[13.8,0.73],[14.4,1.16],[15.3,0.72],[16.2,1.18],[16.8,0.69],[13.2,0.68],[15.9,0.76],[17.3,0.8],[14.9,1.22],
[12.8,0.7],[13.5,0.64],[14.3,0.72],[15.0,0.6],[15.8,0.68],[16.5,0.74],[17.3,0.62],[14.3,0.55],[13.3,0.43],[15.8,0.4],[16.3,0.56],[17.0,0.6],[12.1,0.47],[14.8,0.5],
[12.7,1.24],[13.4,1.31],[14.1,1.22],[14.8,1.18],[15.6,1.26],[16.3,1.11],[17.0,1.14],[13.8,1.37],[15.7,1.29],[17.4,1.45],[17.0,1.4],[13.1,1.62],[15.8,1.54],[15.5,2.03],[16.0,1.54],[14.0,1.25],[13.8,1.45]];
const pts20 = [[17.7,0.97],[18.2,1.08],[18.7,0.88],[19.2,1.01],[19.7,0.9],[20.2,1.1],[20.7,0.94],[21.2,0.84],[21.7,0.98],[22.2,1.05],
[17.9,0.85],[18.4,0.99],[18.9,1.13],[19.4,0.83],[19.9,1.0],[20.4,0.87],[20.9,1.05],[21.4,0.92],[22.0,0.77],
[17.8,1.02],[18.6,0.79],[19.3,1.1],[20.0,0.8],[20.8,1.0],[21.5,0.9],[22.3,0.94],[18.3,0.9],[19.6,0.96],[21.0,0.77],
[18.0,0.72],[18.7,0.66],[19.5,0.74],[20.2,0.64],[21.2,0.69],[21.7,0.88],[18.7,0.45],[17.5,0.43],[20.7,0.49],[21.2,0.56],[21.7,0.41],[17.0,0.6],[16.3,0.56],
[17.5,1.19],[18.3,1.08],[18.0,1.11],[20.5,1.18],[21.0,1.19],[21.7,1.24],[20.7,1.18],[21.2,1.23],[22.0,1.24],[22.2,1.08],[18.0,1.46],[17.4,1.45],[20.5,1.57],[22.0,1.8],[17.7,1.4],[19.0,1.3]];
const ptsOuter = [[-29.0,0.94],[-29.3,0.43],[-28.3,0.5],[-25.5,0.78],[-25.2,0.47],[-24.4,0.38],[-23.7,0.54],[-23.1,0.52],[-23.7,0.9],[-23.5,0.75],[-23.0,0.7],[-23.8,1.7],[-22.1,1.31],[-21.0,1.25],
[23.0,1.24],[25.5,1.14],[28.2,1.06],[23.9,1.03],[23.2,0.82],[24.8,0.83],[27.3,0.8],[23.3,0.6],[23.7,0.58],[22.9,0.51],[22.1,1.79],[24.9,1.51],[25.7,1.15],[22.8,0.95],[22.6,1.0]];

// box plot statistics per bin
const boxPos   = [-19.3,-14.6,-9.9,-4.7,0.07,4.6,9.7,14.9,19.6];
const boxQ1    = [0.833,0.85,0.856,0.86,0.876,0.85,0.83,0.80,0.855];
const boxMed   = [1.005,0.99,0.96,0.985,0.975,0.96,0.97,0.925,0.955];
const boxQ3    = [1.09,1.15,1.08,1.11,1.085,1.066,1.11,1.036,1.03];
const notchLo  = [0.955,0.95,0.93,0.965,0.96,0.945,0.94,0.885,0.92];
const notchHi  = [1.055,1.05,0.99,1.005,0.99,0.975,1.0,0.965,0.99];
const whiskLo  = [0.58,0.29,0.29,0.23,0.43,0.33,0.44,0.29,0.42];
const whiskHi  = [1.56,1.905,2.2,2.13,2.2,2.83,2.75,2.03,1.79];

// fitted curve
const curveX = [-30,-25,-20,-15,-10,-5,0,5,10,15,20,25,30];
const curveY = [0.873,0.911,0.943,0.968,0.986,0.996,1.0,0.996,0.986,0.968,0.943,0.911,0.873];

// shaded band [mu_up, mu_lwr]
const bandX  = [-21,-19,-17,-15,-13,-11,-9,-5,0,5,9,11,13,15,17,19,21];
const bandHi = [1.01,1.03,1.05,1.06,1.05,1.04,1.03,1.02,1.02,1.02,1.0,0.99,0.97,0.96,0.96,0.96,0.95];
const bandLo = [0.99,0.98,0.98,0.97,0.97,0.97,0.97,0.97,0.97,0.96,0.95,0.93,0.90,0.88,0.88,0.90,0.92];

// ---------- CHART ----------
const SERIF = "'Liberation Serif','DejaVu Serif',serif";
const SANS = "'Liberation Sans',Arial,sans-serif";
const AX = '#262626';
const BOX_HALF = 1.1;

const scatterData = [].concat(ptsM20, ptsM15, ptsM10, ptsM5, pts0, pts5, pts10, ptsMid, ptsCore, ptsCore2, pts15, pts20, ptsOuter);
const boxData = boxPos.map((x,i)=>[x, boxQ1[i], boxMed[i], boxQ3[i], notchLo[i], notchHi[i], whiskLo[i], whiskHi[i]]);
const bandData = bandX.map((x,i)=>[x, bandLo[i], bandHi[i]]);
const curveData = curveX.map((x,i)=>[x, curveY[i]]);

function renderBox(params, api){
  const x = api.value(0);
  const Y = v => api.coord([x, v])[1];
  const cx = api.coord([x, api.value(2)])[0];
  const hw = api.size([BOX_HALF, 0])[0];
  const nw = hw*0.5;
  const yq1=Y(api.value(1)), ym=Y(api.value(2)), yq3=Y(api.value(3));
  const ynl=Y(api.value(4)), ynh=Y(api.value(5)), ywl=Y(api.value(6)), ywh=Y(api.value(7));
  const cap = hw*0.47;
  const dash = {stroke:'#000', lineWidth:0.9, lineDash:[6,3.5], fill:null};
  const solid = {stroke:'#000', lineWidth:0.9, fill:null};
  const pts = [[cx-hw,yq3],[cx+hw,yq3],[cx+hw,ynh],[cx+nw,ym],[cx+hw,ynl],[cx+hw,yq1],[cx-hw,yq1],[cx-hw,ynl],[cx-nw,ym],[cx-hw,ynh]];
  return {type:'group', children:[
    {type:'line', shape:{x1:cx,y1:yq3,x2:cx,y2:ywh}, style:dash},
    {type:'line', shape:{x1:cx,y1:yq1,x2:cx,y2:ywl}, style:dash},
    {type:'line', shape:{x1:cx-cap,y1:ywh,x2:cx+cap,y2:ywh}, style:solid},
    {type:'line', shape:{x1:cx-cap,y1:ywl,x2:cx+cap,y2:ywl}, style:solid},
    {type:'polygon', shape:{points:pts}, style:{fill:null, stroke:'#0000ff', lineWidth:1}},
    {type:'line', shape:{x1:cx-nw,y1:ym,x2:cx+nw,y2:ym}, style:{stroke:'#ff0000', lineWidth:1}}
  ]};
}
function renderBand(params, api){
  if (params.dataIndex !== 0) return null;
  const up = bandX.map((x,i)=>api.coord([x, bandHi[i]]));
  const lo = bandX.map((x,i)=>api.coord([x, bandLo[i]])).reverse();
  return {type:'polygon', shape:{points:up.concat(lo), smooth:0.3}, style:{fill:'rgba(255,0,0,0.2)'}};
}

const subRich = {
  t:{fontFamily:SERIF, fontSize:18, color:'#000', lineHeight:22},
  b:{fontFamily:SERIF, fontSize:19, color:'#000', lineHeight:25},
  q:{fontFamily:SERIF, fontSize:19, color:'#000', lineHeight:20},
  m:{fontFamily:SERIF, fontSize:20, fontStyle:'italic', color:'#000', lineHeight:25},
  s:{fontFamily:SERIF, fontSize:14, color:'#000', verticalAlign:'bottom', lineHeight:17},
  ss:{fontFamily:SERIF, fontSize:10, color:'#000', verticalAlign:'bottom', lineHeight:13},
  sss:{fontFamily:SERIF, fontSize:7, color:'#000', verticalAlign:'bottom', lineHeight:9}
};
const legendText = {
  'data':'{t|Measurement Data}',
  'band':'{b|[}{m|μ}{s|c}{ss|T}{s|/c}{ss|T}{sss|ref}{s|,up}{b|, }{m|μ}{s|c}{ss|T}{s|/c}{ss|T}{sss|ref}{s|,lwr}{b|]}',
  'fit':'{q|q \u200A= \u200A0.947 \u200A± \u200A0.21}'
};

const chart = echarts.init(document.getElementById('c'), null, {renderer:'canvas'});
const xBase = {type:'value', min:-30, max:30, interval:5};
const yBase = {type:'value', min:0, max:3, interval:0.5};
chart.setOption({
  animation:false,
  backgroundColor:'#fff',
  grid:{left:71, right:10, top:14, bottom:58, containLabel:false, outerBoundsMode:'none'},
  legend:{
    orient:'vertical', left:76, top:28,
    padding:[2,5,5,4], itemGap:0, itemWidth:36, itemHeight:14,
    backgroundColor:'#fff', borderColor:AX, borderWidth:0.8, borderRadius:0,
    selectedMode:false,
    textStyle:{fontFamily:SERIF, fontSize:18, color:'#000', rich:subRich},
    formatter:(n)=>legendText[n],
    data:[
      {name:'data', icon:'path://M0,0M36,14M16.5,5.5h3v3h-3z', itemStyle:{color:'#808080'}},
      {name:'band', icon:'rect', itemStyle:{color:'#ffcccc', borderWidth:0}},
      {name:'fit', icon:'path://M0,0M36,14M0,5.7h36v2.6h-36z', itemStyle:{color:'#D95319', borderWidth:0}}
    ]
  },
  xAxis:[
    Object.assign({}, xBase, {
      position:'bottom',
      name:'True Offset [°]', nameLocation:'middle', nameGap:35, nameMoveOverlap:false,
      nameTextStyle:{fontFamily:SERIF, fontSize:21, color:AX},
      axisLine:{show:true, onZero:false, lineStyle:{color:AX, width:0.8}},
      axisTick:{show:true, inside:true, length:5, lineStyle:{color:AX, width:0.8}},
      axisLabel:{show:true, fontFamily:SANS, fontSize:17, color:AX, margin:9, showMinLabel:true, showMaxLabel:true, hideOverlap:false},
      splitLine:{show:true, lineStyle:{color:'#dedede', width:0.8}},
      minorTick:{show:false, splitNumber:5},
      minorSplitLine:{show:true, lineStyle:{color:'#d6d6d6', width:0.6, type:[1,2]}}
    }),
    Object.assign({}, xBase, {
      position:'top',
      axisLine:{show:true, onZero:false, lineStyle:{color:AX, width:0.8}},
      axisTick:{show:true, inside:true, length:5, lineStyle:{color:AX, width:0.8}},
      axisLabel:{show:false}, splitLine:{show:false}
    })
  ],
  yAxis:[
    Object.assign({}, yBase, {
      position:'left',
      name:'{i|c}{s|T}{n|\u2009/\u2009}{i|c\u0304}{s|T}{ss|ref}{n|\u2009\u2009\u2009\u2009\u2009\u2009\u2009[-]}', nameLocation:'middle', nameGap:33, nameMoveOverlap:false,
      nameTextStyle:{fontFamily:SERIF, fontSize:25, color:AX, rich:{
        i:{fontFamily:SERIF, fontSize:27, fontStyle:'italic', color:AX, lineHeight:30},
        n:{fontFamily:SERIF, fontSize:25, color:AX, lineHeight:30},
        s:{fontFamily:SERIF, fontSize:18, color:AX, verticalAlign:'bottom', lineHeight:21},
        ss:{fontFamily:SERIF, fontSize:13, color:AX, verticalAlign:'bottom', lineHeight:14}
      }},
      axisLine:{show:true, onZero:false, lineStyle:{color:AX, width:0.8}},
      axisTick:{show:true, inside:true, length:5, lineStyle:{color:AX, width:0.8}},
      axisLabel:{show:true, fontFamily:SANS, fontSize:17, color:AX, margin:9, showMinLabel:true, showMaxLabel:true, hideOverlap:false},
      splitLine:{show:true, lineStyle:{color:'#dedede', width:0.8}},
      minorTick:{show:false, splitNumber:5},
      minorSplitLine:{show:true, lineStyle:{color:'#d6d6d6', width:0.6, type:[1,2]}}
    }),
    Object.assign({}, yBase, {
      position:'right',
      axisLine:{show:true, onZero:false, lineStyle:{color:AX, width:0.8}},
      axisTick:{show:true, inside:true, length:5, lineStyle:{color:AX, width:0.8}},
      axisLabel:{show:false}, splitLine:{show:false}
    })
  ],
  series:[
    {name:'data', type:'scatter', data:scatterData, symbol:'circle', symbolSize:3.6,
     itemStyle:{color:'#808080'}, z:2, silent:true},
    {name:'band', type:'custom', data:bandData, renderItem:renderBand, encode:{x:0, y:[1,2]},
     itemStyle:{color:'#ffcccc'}, z:3, silent:true},
    {name:'boxes', type:'custom', data:boxData, renderItem:renderBox, encode:{x:0, y:[1,2,3,4,5,6,7]}, z:4, silent:true},
    {name:'fit', type:'line', data:curveData, smooth:true, showSymbol:false, symbol:'none',
     lineStyle:{color:'#D95319', width:2.6}, itemStyle:{color:'#D95319'}, z:5, silent:true}
  ]
});
</script></body></html>
